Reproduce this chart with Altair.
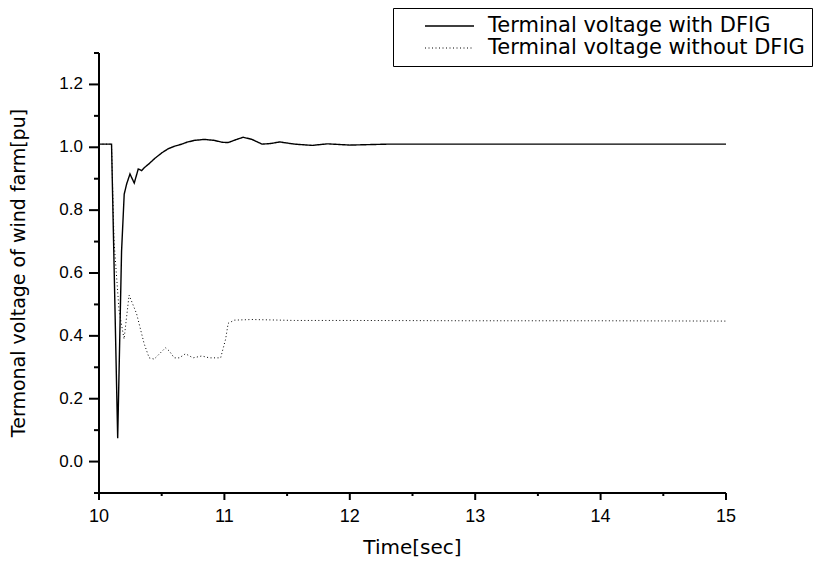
import altair as alt
import pandas as pd

s_with = "Terminal voltage with DFIG"
s_without = "Terminal voltage without DFIG"
x_title = "Time[sec]"
y_title = "Termonal voltage of wind farm[pu]"

t_with = [10.0, 10.10, 10.149, 10.18, 10.201, 10.221, 10.247, 10.281, 10.313, 10.34, 10.361,
          10.40, 10.446, 10.50, 10.55, 10.60, 10.66, 10.70, 10.76, 10.84, 10.92, 10.98, 11.03,
          11.09, 11.15, 11.22, 11.30, 11.37, 11.44, 11.56, 11.70, 11.82, 12.0, 12.3, 13.0, 14.0, 15.0]
v_with = [1.01, 1.01, 0.074, 0.67, 0.851, 0.884, 0.915, 0.886, 0.931, 0.926, 0.935,
          0.948, 0.965, 0.982, 0.995, 1.003, 1.01, 1.016, 1.022, 1.025, 1.022, 1.016, 1.015,
          1.024, 1.032, 1.025, 1.01, 1.012, 1.017, 1.01, 1.006, 1.011, 1.007, 1.01, 1.01, 1.01, 1.01]

t_without = [10.0, 10.10, 10.12, 10.16, 10.20, 10.22, 10.24, 10.30, 10.36, 10.40, 10.44, 10.48,
             10.53, 10.56, 10.60, 10.64, 10.69, 10.75, 10.82, 10.88, 10.97, 11.01, 11.03, 11.08,
             11.22, 11.56, 12.0, 13.0, 14.0, 15.0]
v_without = [1.01, 1.01, 0.70, 0.48, 0.39, 0.46, 0.53, 0.47, 0.375, 0.33, 0.326, 0.342,
             0.362, 0.352, 0.33, 0.33, 0.343, 0.33, 0.336, 0.33, 0.33, 0.39, 0.44, 0.45,
             0.452, 0.449, 0.449, 0.448, 0.448, 0.447]

x_major = [10, 11, 12, 13, 14, 15]
x_minor = [10.5, 11.5, 12.5, 13.5, 14.5]
y_major = [0.0, 0.2, 0.4, 0.6, 0.8, 1.0, 1.2]
y_minor = [-0.1, 0.1, 0.3, 0.5, 0.7, 0.9, 1.1, 1.3]

W, H = 627, 440

df = pd.concat([
    pd.DataFrame({"t": t_with, "v": v_with, "series": s_with}),
    pd.DataFrame({"t": t_without, "v": v_without, "series": s_without}),
])

xscale = alt.Scale(domain=[10, 15], nice=False, zero=False)
yscale = alt.Scale(domain=[-0.1, 1.3], nice=False, zero=False)

tick_font = "Liberation Sans"
title_font = "DejaVu Sans"
AXW = 2

lines = alt.Chart(df).mark_line(color="black").encode(
    x=alt.X("t:Q", scale=xscale, axis=None),
    y=alt.Y("v:Q", scale=yscale, axis=None),
    strokeDash=alt.StrokeDash("series:N", scale=alt.Scale(domain=[s_with, s_without],
                                                          range=[[1, 0], [1, 2.5]]),
                              legend=alt.Legend(title=None)),
    strokeWidth=alt.StrokeWidth("series:N", scale=alt.Scale(domain=[s_with, s_without],
                                                            range=[1.4, 1.0]), legend=None),
)

# axis lines
x_domain = alt.Chart(pd.DataFrame({"a": [0]})).mark_rule(color="black", strokeWidth=AXW).encode(
    x=alt.value(0), x2=alt.value(W), y=alt.value(H))
y_domain = alt.Chart(pd.DataFrame({"a": [0]})).mark_rule(color="black", strokeWidth=AXW).encode(
    x=alt.value(0), y=alt.value(0), y2=alt.value(H))


def xticks(vals, size):
    return alt.Chart(pd.DataFrame({"tv": vals})).mark_rule(
        color="black", strokeWidth=AXW).encode(
        x=alt.X("tv:Q", scale=xscale, axis=None),
        y=alt.value(H), y2=alt.value(H + size))


def yticks(vals, size):
    return alt.Chart(pd.DataFrame({"yv": vals})).mark_rule(
        color="black", strokeWidth=AXW).encode(
        y=alt.Y("yv:Q", scale=yscale, axis=None),
        x=alt.value(0), x2=alt.value(-size))


x_labels = alt.Chart(pd.DataFrame({"tv": x_major})).mark_text(
    font=tick_font, fontSize=18, color="black", align="center", baseline="middle").encode(
    x=alt.X("tv:Q", scale=xscale, axis=None),
    y=alt.value(H + 24),
    text=alt.Text("tv:Q", format="d"))

y_labels = alt.Chart(pd.DataFrame({"yv": y_major})).mark_text(
    font=tick_font, fontSize=17, color="black", align="right", baseline="middle").encode(
    y=alt.Y("yv:Q", scale=yscale, axis=None),
    x=alt.value(-16),
    text=alt.Text("yv:Q", format=".1f"))

x_title_mark = alt.Chart(pd.DataFrame({"label": [x_title]})).mark_text(
    font=title_font, fontSize=20, color="black", align="center", baseline="middle").encode(
    x=alt.value(W / 2), y=alt.value(H + 55), text="label:N")

y_title_mark = alt.Chart(pd.DataFrame({"label": [y_title]})).mark_text(
    font=title_font, fontSize=19, color="black", align="center", baseline="middle",
    angle=270).encode(
    x=alt.value(-80), y=alt.value(H / 2), text="label:N")

chart = alt.layer(
    lines,
    x_domain, y_domain,
    xticks(x_major, 7), xticks(x_minor, 3),
    yticks(y_major, 10), yticks(y_minor, 5),
    x_labels, y_labels, x_title_mark, y_title_mark,
).properties(
    width=W, height=H,
    autosize=alt.AutoSizeParams(type="none"),
    padding={"left": 91, "top": 45, "right": 97, "bottom": 70},
).configure_view(stroke=None).configure_legend(
    orient="none", legendX=294, legendY=-45,
    strokeColor="black", fillColor="white", padding=7,
    symbolType="stroke", symbolSize=2401, symbolStrokeWidth=1.2, symbolStrokeColor="black",
    symbolOffset=24, labelOffset=13, labelFontSize=21, labelFont=title_font,
    labelColor="black", labelLimit=600, rowPadding=0, clipHeight=22, cornerRadius=0,
)

chart.save("out.html", embed_options={"renderer": "svg", "actions": False})
